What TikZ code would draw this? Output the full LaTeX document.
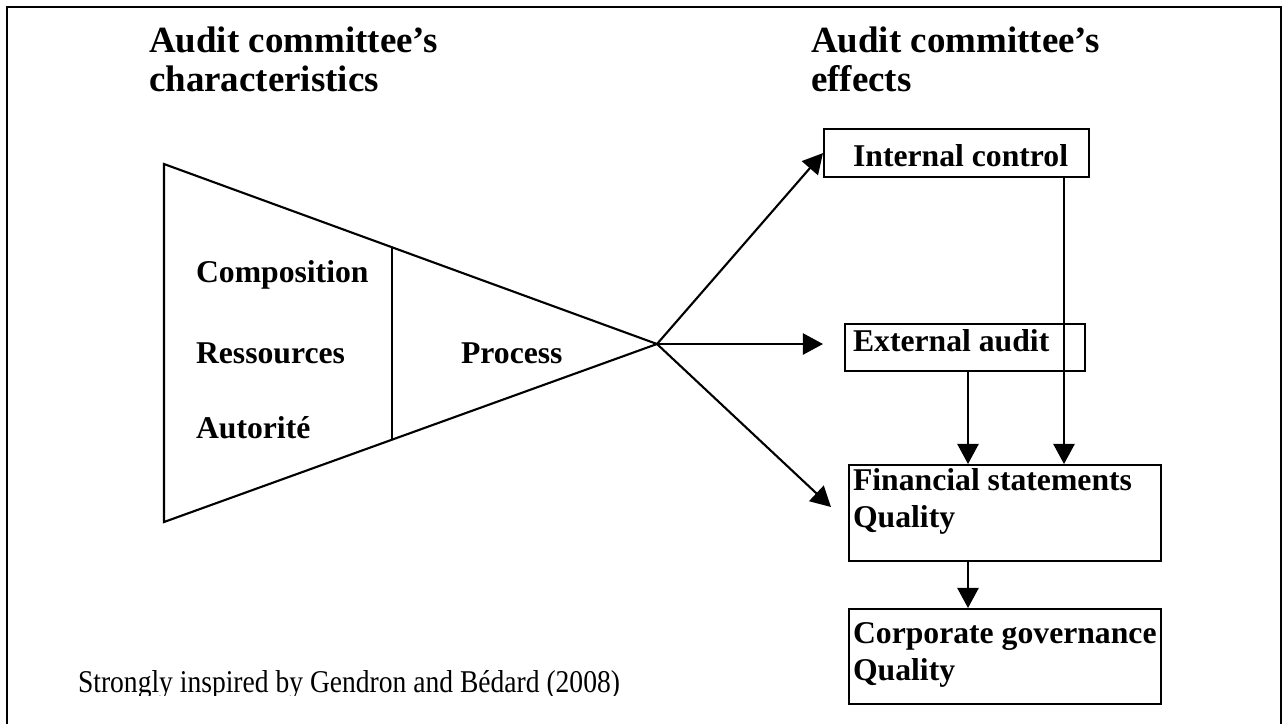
\documentclass[tikz,border=0pt]{standalone}
\usepackage{fontspec}
\setmainfont{Liberation Serif}
\newfontfamily\footfont[FakeStretch=0.87]{Liberation Serif}
\usetikzlibrary{arrows.meta,calc}
\begin{document}
\begin{tikzpicture}[x=0.3788pt,y=-0.3788pt,
  line width=0.8pt,
  arr/.style={-{Triangle[length=7.6pt,width=8pt]}},
  box/.style={draw,rectangle,inner sep=0pt,anchor=north west},
  head/.style={inner sep=0pt,anchor=base west,font=\fontsize{14pt}{16pt}\selectfont\bfseries},
  lbl/.style={inner sep=0pt,anchor=base west,font=\fontsize{12pt}{14pt}\selectfont\bfseries},
  foot/.style={inner sep=0pt,anchor=base west,font=\footfont\fontsize{12pt}{14pt}\selectfont}]
\useasboundingbox (0,0) rectangle (1285,724);
% frame
\draw[line width=1pt] (7,724) -- (7,7) -- (1281,7) -- (1281,724);
% headings
\node[head] (h1a) at (148,52) {Audit committee’s};
\node[head] (h1b) at (148,91) {characteristics};
\node[head] (h2a) at (810,52) {Audit committee’s};
\node[head] (h2b) at (810,91) {effects};
% trapezoid
\coordinate (apex) at (657,344);
\coordinate (tl) at (164,164);
\coordinate (bl) at (164,522);
\draw (tl) -- (apex) -- (bl) -- cycle;
\draw ($(tl)!0.4625!(apex)$) -- ($(bl)!0.4625!(apex)$);
\node[lbl] (comp) at (195,282) {Composition};
\node[lbl] (ress) at (195,363) {Ressources};
\node[lbl] (auto) at (195,438) {Autorité};
\node[lbl] (proc) at (460,363) {Process};
% boxes
\node[box,minimum width={265*0.3788pt},minimum height={48*0.3788pt}] (ic) at (823,128) {};
\node[lbl] (ict) at (852,166) {Internal control};
\node[box,minimum width={240*0.3788pt},minimum height={47*0.3788pt}] (ea) at (844,323) {};
\node[lbl] (eat) at (852,351) {External audit};
\node[box,minimum width={312*0.3788pt},minimum height={96*0.3788pt}] (fs) at (848,464) {};
\node[lbl] (fst1) at (852,490) {Financial statements};
\node[lbl] (fst2) at (852,527) {Quality};
\node[box,minimum width={312*0.3788pt},minimum height={95*0.3788pt}] (cg) at (848,608) {};
\node[lbl] (cgt1) at (852,643) {Corporate governance};
\node[lbl] (cgt2) at (852,680) {Quality};
% connectors
\coordinate (eaIn) at (823,344);
\coordinate (fsIn) at (831,507);
\coordinate (xa) at (1064,0);
\coordinate (xb) at (968,0);
\draw[arr] (apex) -- (ic.west);
\draw[arr] (apex) -- (eaIn);
\draw[arr] (apex) -- (fsIn);
\draw[arr] (ic.south -| xa) -- (fs.north -| xa);
\draw[arr] (ea.south -| xb) -- (fs.north -| xb);
\draw[arr] (fs.south -| xb) -- (cg.north -| xb);
% footer (clipped)
\begin{scope}
\clip (0,0) rectangle (1285,695);
\node[foot] (src) at (77,692) {Strongly inspired by Gendron and Bédard (2008)};
\end{scope}
\end{tikzpicture}
\end{document}
